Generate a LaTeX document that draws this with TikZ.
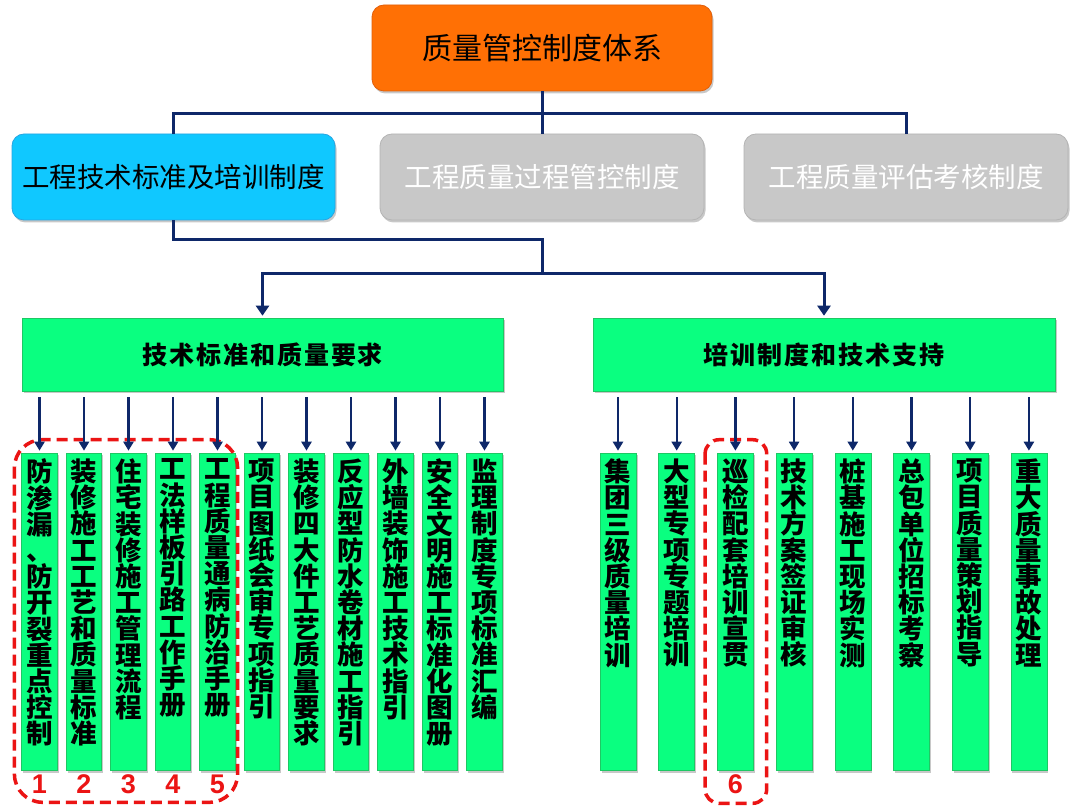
\documentclass[tikz,border=0pt]{standalone}
\usepackage{fontspec}
\setmainfont{Noto Sans CJK SC}
\newfontfamily\numfont{Liberation Sans}
\usetikzlibrary{arrows.meta,shadows,calc}
\definecolor{navy}{RGB}{14,40,105}
\definecolor{orangefill}{RGB}{255,112,5}
\definecolor{orangeedge}{RGB}{225,95,10}
\definecolor{bluefill}{RGB}{16,200,255}
\definecolor{blueedge}{RGB}{40,165,225}
\definecolor{grayfill}{RGB}{200,200,200}
\definecolor{grayedge}{RGB}{180,180,180}
\definecolor{greenfill}{RGB}{10,255,128}
\definecolor{greenedge}{RGB}{30,200,100}
\definecolor{reddash}{RGB}{235,20,20}
\tikzset{
  shadowed/.style={drop shadow={opacity=0.3,shadow xshift=1.5pt,shadow yshift=-2.5pt,fill=black!70}},
  topbox/.style={shadowed,draw=orangeedge,line width=0.8pt,fill=orangefill,rounded corners=12pt,inner sep=0pt,
    minimum width=340pt,minimum height=86pt,font=\fontsize{30}{36}\selectfont},
  lvbox/.style={shadowed,rounded corners=12pt,inner sep=0pt,line width=0.8pt,
    minimum width=323pt,minimum height=86pt,font=\fontsize{27.5}{33}\selectfont},
  bluebox/.style={lvbox,draw=blueedge,fill=bluefill,text=black},
  graybox/.style={lvbox,draw=grayedge,fill=grayfill,text=white},
  hdrbox/.style={shadowed,draw=greenedge,line width=0.6pt,fill=greenfill,inner sep=0pt,
    minimum height=73pt,font=\fontsize{25}{30}\selectfont\bfseries\addfontfeature{LetterSpace=8}},
  colbox/.style={shadowed,draw=greenedge,line width=0.6pt,fill=greenfill,inner sep=0pt,
    minimum height=317pt},
  coltext/.style={inner sep=0pt,align=center,anchor=north,font=\fontsize{26.5}{26.2}\selectfont\bfseries},
  conn/.style={draw=navy,line width=3pt},
  conarrow/.style={conn,-{Triangle[width=13pt,length=10pt]},shorten >=2pt},
  colarrow/.style={draw=navy,line width=2.4pt,-{Triangle[width=10pt,length=9pt]},shorten >=2pt},
  redbox/.style={draw=reddash,line width=3.5pt,dash pattern=on 11pt off 6pt},
  numlbl/.style={inner sep=0pt,text=reddash,font=\numfont\bfseries\fontsize{27}{28}\selectfont}
}
\begin{document}
\begin{tikzpicture}[x=1pt,y=-1pt]
\useasboundingbox (0,0) rectangle (1080,810);
\fill[white] (0,0) rectangle (1080,810);

% top and second level
\node[topbox] (top) at (542,48) {质量管控制度体系};
\node[bluebox] (b1) at (173.5,177) {工程技术标准及培训制度};
\node[graybox,minimum width=324pt] (b2) at (542,177) {工程质量过程管控制度};
\node[graybox,minimum width=324pt] (b3) at (906,177) {工程质量评估考核制度};

\coordinate (j1) at (542,114);
\draw[conn] (top.south) -- (j1);
\draw[conn] (j1) -| (b1.north);
\draw[conn] (j1) -- (b2.north);
\draw[conn] (j1) -| (b3.north);

% third level
\node[hdrbox,minimum width=481pt] (g1) at (262.5,354.5) {技术标准和质量要求};
\node[hdrbox,minimum width=462pt] (g2) at (824,354.5) {培训制度和技术支持};

\coordinate (j2) at (542,240);
\coordinate (j3) at (542,274);
\draw[conn] (b1.south) |- (j2) -- (j3);
\draw[conarrow] (j3) -| (g1.north);
\draw[conarrow] (j3) -| (g2.north);

% left columns
\foreach \i/\t in {
 1/{防\\渗\\漏\\、\\防\\开\\裂\\重\\点\\控\\制},
 2/{装\\修\\施\\工\\工\\艺\\和\\质\\量\\标\\准},
 3/{住\\宅\\装\\修\\施\\工\\管\\理\\流\\程},
 4/{工\\法\\样\\板\\引\\路\\工\\作\\手\\册},
 5/{工\\程\\质\\量\\通\\病\\防\\治\\手\\册},
 6/{项\\目\\图\\纸\\会\\审\\专\\项\\指\\引},
 7/{装\\修\\四\\大\\件\\工\\艺\\质\\量\\要\\求},
 8/{反\\应\\型\\防\\水\\卷\\材\\施\\工\\指\\引},
 9/{外\\墙\\装\\饰\\施\\工\\技\\术\\指\\引},
 10/{安\\全\\文\\明\\施\\工\\标\\准\\化\\图\\册},
 11/{监\\理\\制\\度\\专\\项\\标\\准\\汇\\编}}{
  \node[colbox,minimum width=35.5pt] (L\i) at ({39.5+44.5*(\i-1)},611.5) {};
  \node[coltext] (LT\i) at ($(L\i.north)+(0,6)$) {\t};
}

% right columns
\foreach \i/\t in {
 1/{集\\团\\三\\级\\质\\量\\培\\训},
 2/{大\\型\\专\\项\\专\\题\\培\\训},
 3/{巡\\检\\配\\套\\培\\训\\宣\\贯},
 4/{技\\术\\方\\案\\签\\证\\审\\核},
 5/{桩\\基\\施\\工\\现\\场\\实\\测},
 6/{总\\包\\单\\位\\招\\标\\考\\察},
 7/{项\\目\\质\\量\\策\\划\\指\\导},
 8/{重\\大\\质\\量\\事\\故\\处\\理}}{
  \node[colbox,minimum width=36pt] (R\i) at ({618+58.7*(\i-1)},611.5) {};
  \node[coltext] (RT\i) at ($(R\i.north)+(0,6)$) {\t};
}

% red highlight frames and numbers
\draw[redbox,rounded corners=28pt] ($(L1.north west)+(-7,-13)$) rectangle ($(L5.south east)+(2,32)$);
\draw[redbox,rounded corners=14pt] ($(R3.north west)+(-12,-13)$) rectangle ($(R3.south east)+(13,33)$);
\foreach \i in {1,...,5}{
  \node[numlbl] (N\i) at ($(L\i.south)+(0,14)$) {\i};
}
\node[numlbl] (N6) at ($(R3.south)+(0,14)$) {6};

% arrows into the columns (on top of the frames)
\foreach \i in {1,...,11}{
  \draw[colarrow] ($(g1.south -| L\i.north)+(0,6)$) -- (L\i.north);
}
\foreach \i in {1,...,8}{
  \draw[colarrow] ($(g2.south -| R\i.north)+(0,6)$) -- (R\i.north);
}
\end{tikzpicture}
\end{document}
